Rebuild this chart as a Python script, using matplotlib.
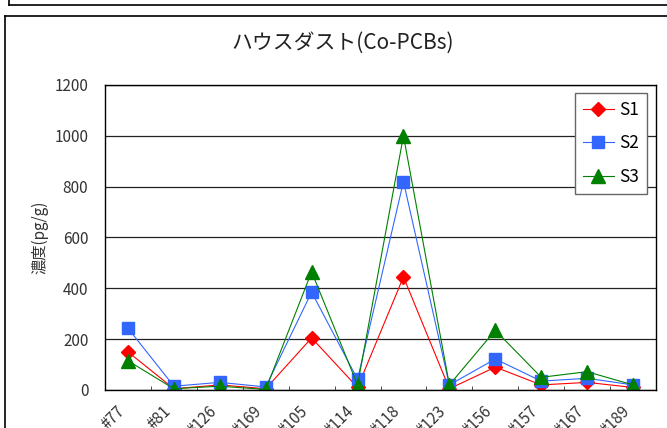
import matplotlib
matplotlib.use('Agg')
import matplotlib.pyplot as plt
from matplotlib.lines import Line2D
import numpy as np

plt.rcParams['font.family'] = ['Noto Sans CJK JP', 'DejaVu Sans']

# データ
congeners = ['#77', '#81', '#126', '#169', '#105', '#114', '#118',
             '#123', '#156', '#157', '#167', '#189']
s1 = [150, 5, 20, 5, 205, 10, 445, 5, 90, 20, 30, 10]
s2 = [243, 15, 30, 12, 385, 42, 820, 20, 122, 35, 46, 20]
s3 = [115, 5, 15, 2, 465, 20, 1000, 20, 235, 50, 72, 20]
y_ticks = [0, 200, 400, 600, 800, 1000, 1200]

title = 'ハウスダスト(Co-PCBs)'
y_label = '濃度(pg/g)'

fig = plt.figure(figsize=(6.67, 4.28), dpi=100)
W, H = 667.0, 428.0

# 外枠（上のグラフの端と、このグラフの枠）
fig.add_artist(Line2D([9 / W, 9 / W], [1, 1 - 5 / H], color='black', lw=1.2))
fig.add_artist(Line2D([9 / W, 1], [1 - 5 / H, 1 - 5 / H], color='black', lw=1.2))
fig.add_artist(Line2D([5 / W, 5 / W], [0, 1 - 16 / H], color='black', lw=1.2))
fig.add_artist(Line2D([5 / W, 1], [1 - 16 / H, 1 - 16 / H], color='black', lw=1.2))

ax = fig.add_axes([105 / W, 1 - 390 / H, 551 / W, 305 / H])

x = np.arange(len(congeners))
ax.plot(x, s1, color='#FF0000', lw=0.8, marker='D', markersize=7, label='S1')
ax.plot(x, s2, color='#3366FF', lw=0.8, marker='s', markersize=8.5, label='S2')
ax.plot(x, s3, color='#008000', lw=0.8, marker='^', markersize=10, label='S3')

ax.set_xlim(-0.5, len(congeners) - 0.5)
ax.set_ylim(0, 1200)
ax.set_yticks(y_ticks)
ax.set_yticklabels([str(v) for v in y_ticks], fontsize=11, color='#333333')
ax.tick_params(axis='y', length=0, pad=12)

ax.set_xticks(x)
ax.set_xticklabels(congeners, rotation=45, ha='right', fontsize=11, color='#333333')
ax.tick_params(axis='x', which='major', length=0, pad=9)
ax.set_xticks(np.arange(-0.5, len(congeners), 1), minor=True)
ax.tick_params(axis='x', which='minor', direction='in', length=3, color='#333333')

ax.grid(axis='y', color='#222222', lw=0.9)
ax.set_axisbelow(True)
for sp in ax.spines.values():
    sp.set_color('black')
    sp.set_linewidth(1.0)

ax.set_ylabel(y_label, fontsize=11, color='#333333', labelpad=4)

fig.text(343 / W, 1 - 43 / H, title, ha='center', va='center', fontsize=15, color='#222222')

leg = ax.legend(loc='upper right', bbox_to_anchor=(1 - 9 / 551, 1 - 8 / 305),
                fontsize=12.5, fancybox=False, framealpha=1, edgecolor='#666666',
                handlelength=1.8, borderaxespad=0, labelspacing=0.9,
                handletextpad=0.3, borderpad=0.45)
leg.get_frame().set_linewidth(1.0)

fig.savefig('out.png', dpi=100)
